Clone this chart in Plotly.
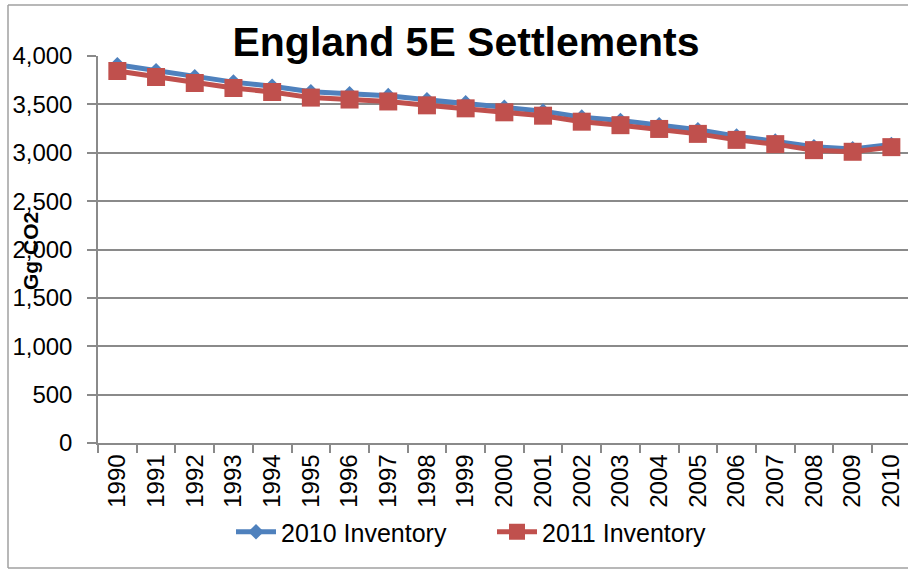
import plotly.graph_objects as go

years = [str(y) for y in range(1990, 2011)]
inv2010 = [3910, 3848, 3785, 3730, 3688, 3630, 3610, 3590, 3548, 3515, 3470,
           3430, 3368, 3333, 3290, 3238, 3172, 3120, 3062, 3040, 3085]
inv2011 = [3845, 3783, 3721, 3669, 3628, 3570, 3550, 3530, 3490, 3459, 3418,
           3383, 3321, 3285, 3246, 3195, 3133, 3089, 3027, 3010, 3058]
yticks = [0, 500, 1000, 1500, 2000, 2500, 3000, 3500, 4000]

FONT = "Liberation Sans"
GRID = "#8a8a8a"
W, H = 908, 572
L, T, B = 98, 56, 129
PW, PH = W - L, H - T - B

fig = go.Figure()
fig.add_trace(go.Scatter(x=years, y=inv2010, name="2010 Inventory", mode="lines+markers",
                         line=dict(color="#4F81BD", width=5),
                         marker=dict(symbol="diamond", size=12, color="#4F81BD")))
fig.add_trace(go.Scatter(x=years, y=inv2011, name="2011 Inventory", mode="lines+markers",
                         line=dict(color="#C0504D", width=5),
                         marker=dict(symbol="square", size=18, color="#C0504D")))

fig.update_layout(
    width=W, height=H,
    margin=dict(l=L, r=0, t=T, b=B, autoexpand=False),
    paper_bgcolor="white", plot_bgcolor="white",
    font=dict(family=FONT, color="black"),
    title=dict(text="<b>England 5E Settlements</b>", x=466 / W, xanchor="center",
               y=1 - 42 / H, yanchor="middle", font=dict(size=41, family=FONT)),
    showlegend=True,
    legend=dict(orientation="h", x=(231 - L) / PW, xanchor="left",
                y=-(532 - (T + PH)) / PH, yanchor="middle", entrywidth=206,
                font=dict(size=25, family=FONT), itemwidth=40, bgcolor="rgba(0,0,0,0)"),
    xaxis=dict(type="category", range=[-0.5, 20.43], tickangle=-90, tickson="boundaries",
               ticks="outside", ticklen=8, tickcolor=GRID, tickwidth=1.5,
               showline=True, linecolor=GRID, linewidth=1.5, showgrid=False,
               automargin=False, tickfont=dict(size=24, family=FONT)),
    yaxis=dict(range=[0, 4000], tickvals=yticks, tickformat=",",
               ticks="outside", ticklen=9, tickcolor=GRID, tickwidth=1.5,
               ticklabelstandoff=10,
               showline=True, linecolor=GRID, linewidth=1.5,
               showgrid=True, gridcolor=GRID, gridwidth=1.5, zeroline=False,
               automargin=False, tickfont=dict(size=24, family=FONT)),
)

fig.add_annotation(text="<b>Gg CO2</b>", textangle=-90, xref="paper", yref="paper",
                   x=(30 - L) / PW, y=(T + PH - 251) / PH, xanchor="center", yanchor="middle",
                   showarrow=False, font=dict(size=21, family=FONT, color="black"))

# outer chart-area border (left, top, bottom; right edge is cropped in the reference)
bx0 = (8 - L) / PW
by_top = (T + PH - 5) / PH
by_bot = (T + PH - 568) / PH
border = dict(color="#a0a0a0", width=1.5)
for x0, y0, x1, y1 in [(bx0, by_bot, bx0, by_top), (bx0, by_top, 1.03, by_top),
                       (bx0, by_bot, 1.03, by_bot)]:
    fig.add_shape(type="line", xref="paper", yref="paper", x0=x0, y0=y0, x1=x1, y1=y1,
                  line=border, layer="below")

fig.write_html("out.html", config={"displayModeBar": False},
               post_script="document.body.style.margin='0';document.body.style.overflow='hidden';")
